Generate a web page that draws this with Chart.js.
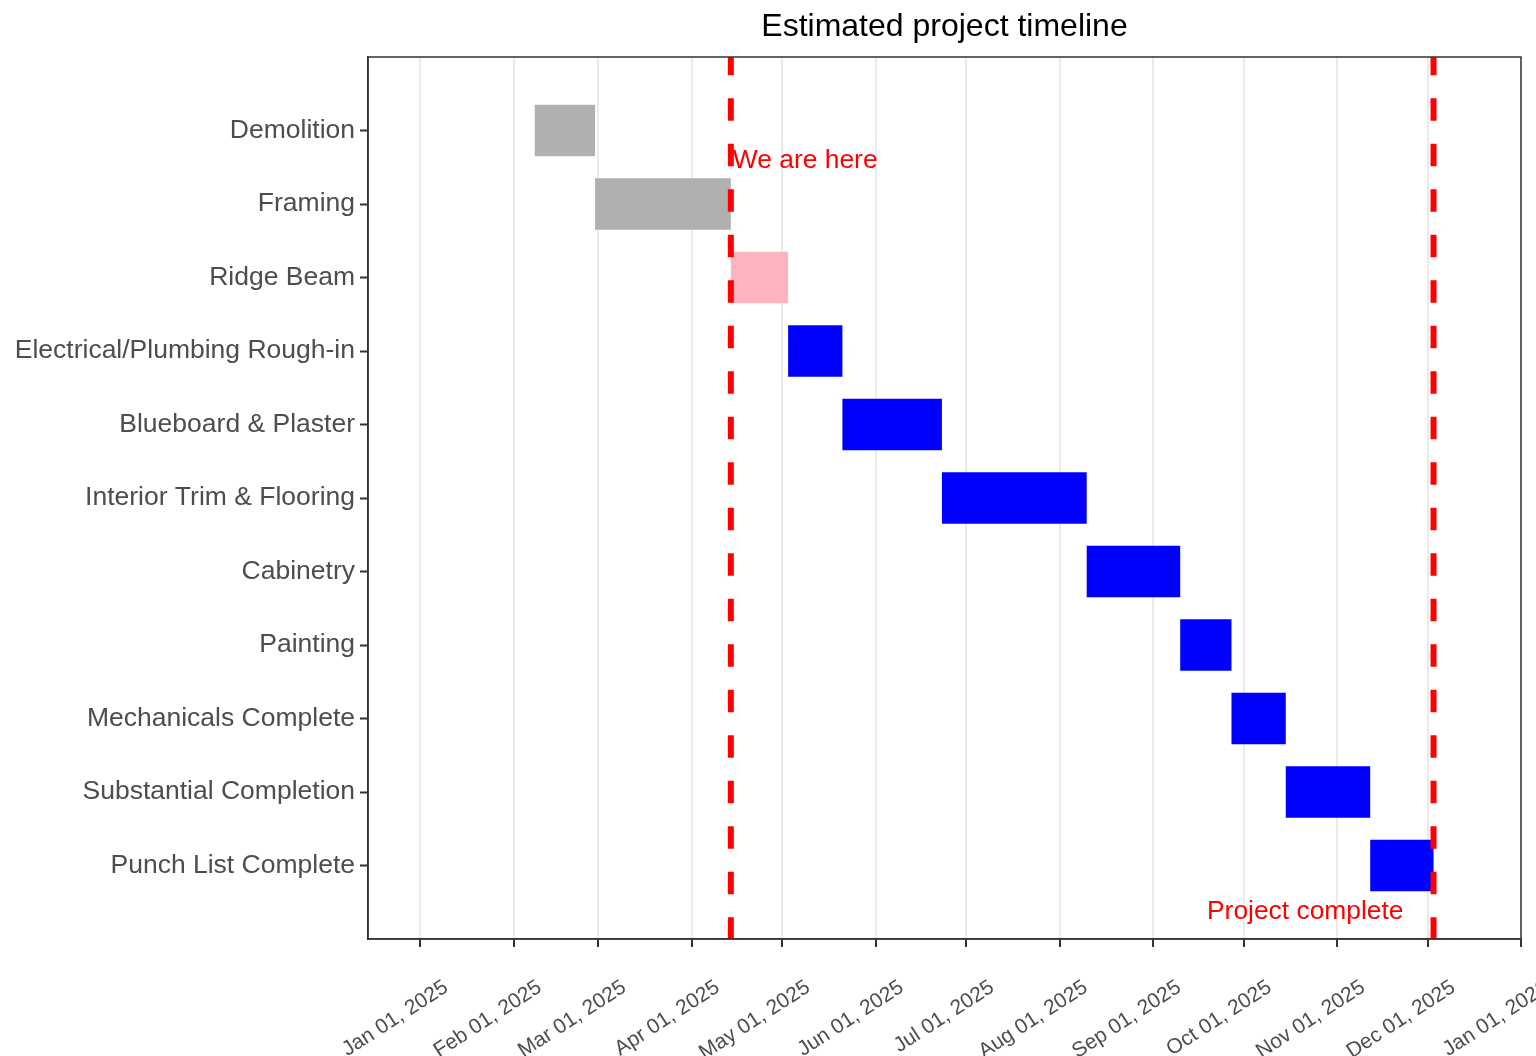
<!DOCTYPE html>
<html>
<head>
<meta charset="utf-8">
<title>Estimated project timeline</title>
<script src="https://cdn.jsdelivr.net/npm/chart.js@4.4.1/dist/chart.umd.min.js"></script>
<style>
  html, body { margin: 0; padding: 0; background: #ffffff; }
  #wrap { width: 1536px; height: 1056px; }
</style>
</head>
<body>
<div id="wrap"><canvas id="myChart"></canvas></div>
<script>
// tasks, top to bottom
const tasks = [
  "Demolition",
  "Framing",
  "Ridge Beam",
  "Electrical/Plumbing Rough-in",
  "Blueboard & Plaster",
  "Interior Trim & Flooring",
  "Cabinetry",
  "Painting",
  "Mechanicals Complete",
  "Substantial Completion",
  "Punch List Complete",
];
const startDates = [
  "2025-02-08", "2025-02-28", "2025-04-14", "2025-05-03", "2025-05-21",
  "2025-06-23", "2025-08-10", "2025-09-10", "2025-09-27", "2025-10-15",
  "2025-11-12",
];
const endDates = [
  "2025-02-28", "2025-04-14", "2025-05-03", "2025-05-21", "2025-06-23",
  "2025-08-10", "2025-09-10", "2025-09-27", "2025-10-15", "2025-11-12",
  "2025-12-03",
];
// done / in progress / upcoming
const barColors = [
  "#b0b0b0", "#b0b0b0", "#ffb3c1", "#0000ff", "#0000ff", "#0000ff",
  "#0000ff", "#0000ff", "#0000ff", "#0000ff", "#0000ff",
];
const tickDates = [
  "2025-01-01", "2025-02-01", "2025-03-01", "2025-04-01", "2025-05-01",
  "2025-06-01", "2025-07-01", "2025-08-01", "2025-09-01", "2025-10-01",
  "2025-11-01", "2025-12-01", "2026-01-01",
];
const markerDates = ["2025-04-14", "2025-12-03"];
const markerLabels = ["We are here", "Project complete"];

const monthNames = ["Jan", "Feb", "Mar", "Apr", "May", "Jun", "Jul", "Aug", "Sep", "Oct", "Nov", "Dec"];
const origin = Date.UTC(2025, 0, 1);

// days since 2025-01-01
function toDay(s) {
  const p = s.split("-").map(Number);
  return (Date.UTC(p[0], p[1] - 1, p[2]) - origin) / 864e5;
}
function fmtDay(d) {
  const dt = new Date(origin + Math.round(d) * 864e5);
  const dd = String(dt.getUTCDate()).padStart(2, "0");
  return monthNames[dt.getUTCMonth()] + " " + dd + ", " + dt.getUTCFullYear();
}

const FONT = "'Liberation Sans', Arial, Helvetica, sans-serif";
Chart.defaults.font.family = FONT;

const barData = tasks.map((t, i) => ({ y: i, x: [toDay(startDates[i]), toDay(endDates[i])] }));

// dashed red lines and their labels
const markers = {
  id: "markers",
  afterDatasetsDraw(chart) {
    const { ctx, chartArea: a, scales } = chart;
    const xs = scales.x, ys = scales.y;
    ctx.save();
    ctx.beginPath();
    ctx.rect(a.left, a.top, a.right - a.left, a.bottom - a.top);
    ctx.clip();
    ctx.strokeStyle = "#ff0000";
    ctx.lineWidth = 6;
    ctx.setLineDash([22.5, 23]);
    ctx.lineDashOffset = 4.2;
    markerDates.forEach((d) => {
      const px = xs.getPixelForValue(toDay(d));
      ctx.beginPath();
      ctx.moveTo(px, a.top);
      ctx.lineTo(px, a.bottom);
      ctx.stroke();
    });
    ctx.setLineDash([]);
    ctx.fillStyle = "#ff0000";
    ctx.font = "26.4px " + FONT;
    ctx.textBaseline = "middle";
    ctx.textAlign = "left";
    ctx.fillText(markerLabels[0], xs.getPixelForValue(toDay(markerDates[0])) + 2, ys.getPixelForValue(0.405));
    ctx.textAlign = "right";
    ctx.fillText(markerLabels[1], xs.getPixelForValue(toDay(markerDates[1])) - 30, ys.getPixelForValue(10.63));
    ctx.restore();
  },
  afterDraw(chart) {
    const { ctx, chartArea: a } = chart;
    ctx.save();
    ctx.strokeStyle = "#333333";
    ctx.lineWidth = 1.5;
    ctx.strokeRect(a.left, a.top, a.right - a.left, a.bottom - a.top);
    ctx.restore();
  },
};

const ctx = document.getElementById("myChart").getContext("2d");
const chart = new Chart(ctx, {
  type: "bar",
  data: {
    datasets: [
      {
        data: barData,
        backgroundColor: barColors,
        borderWidth: 0,
        barPercentage: 0.7,
        categoryPercentage: 1,
      },
    ],
  },
  options: {
    indexAxis: "y",
    responsive: true,
    maintainAspectRatio: false,
    animation: false,
    layout: { padding: { left: 0, right: 15, top: 0, bottom: 0 } },
    plugins: {
      legend: { display: false },
      tooltip: { enabled: false },
      title: {
        display: true,
        text: "Estimated project timeline",
        fullSize: false,
        color: "#000000",
        font: { size: 32, weight: "normal" },
        padding: { top: 8, bottom: 10.6 },
      },
    },
    scales: {
      x: {
        type: "linear",
        min: -17.3,
        max: 365,
        afterBuildTicks: (scale) => {
          scale.ticks = tickDates.map((d) => ({ value: toDay(d) }));
        },
        afterFit: (scale) => {
          scale.height = 117;
          scale.paddingLeft = 0;
          scale.paddingRight = 0;
        },
        ticks: {
          callback: (v) => fmtDay(v),
          autoSkip: false,
          minRotation: 33,
          maxRotation: 33,
          labelOffset: 26,
          padding: 28,
          color: "#4d4d4d",
          font: { size: 21 },
        },
        grid: {
          color: "#ebebeb",
          lineWidth: 2,
          tickColor: "#333333",
          tickLength: 8,
          tickWidth: 2,
        },
        border: { display: true, color: "#333333", width: 1.5 },
      },
      y: {
        type: "linear",
        reverse: true,
        offset: false,
        min: -1,
        max: 11,
        afterBuildTicks: (scale) => {
          scale.ticks = tasks.map((t, i) => ({ value: i }));
        },
        afterFit: (scale) => { scale.width = 368; },
        ticks: {
          callback: (v) => tasks[v],
          autoSkip: false,
          padding: 5,
          color: "#4d4d4d",
          font: { size: 26.5 },
        },
        grid: {
          offset: false,
          drawOnChartArea: false,
          drawTicks: true,
          tickColor: "#333333",
          tickLength: 8,
          tickWidth: 2,
        },
        border: { display: true, color: "#333333", width: 1.5 },
      },
    },
  },
  plugins: [markers],
});
</script>
</body>
</html>
